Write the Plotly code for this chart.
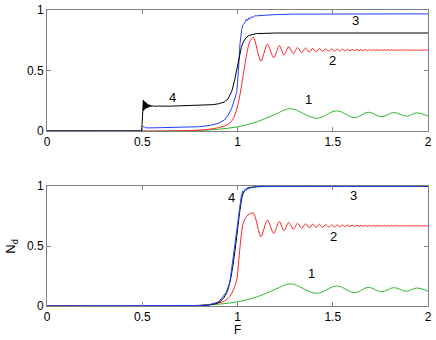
import plotly.graph_objects as go
from plotly.subplots import make_subplots

# curve 1 (green), same in both panels
green_F = [0, 0.6, 0.7, 0.8, 0.9, 1.0, 1.1, 1.2, 1.277, 1.416, 1.52, 1.617, 1.686, 1.757, 1.82, 1.888, 1.94, 2.0]
green_N = [0, 0, 0.002, 0.005, 0.015, 0.035, 0.075, 0.14, 0.185, 0.106, 0.167, 0.111, 0.156, 0.118, 0.153, 0.123, 0.15, 0.124]

# curve 2 (red): rise differs a little between panels, ringing tail is shared
red_rise_top_F = [0, 0.7, 0.8, 0.85, 0.9, 0.93, 0.96, 0.98, 1.004, 1.03, 1.05, 1.065]
red_rise_top_N = [0, 0.002, 0.008, 0.015, 0.028, 0.042, 0.066, 0.11, 0.23, 0.46, 0.65, 0.74]
red_rise_bot_F = [0, 0.7, 0.8, 0.85, 0.9, 0.925, 0.96, 0.98, 0.996, 1.013, 1.03, 1.055]
red_rise_bot_N = [0, 0.002, 0.006, 0.012, 0.025, 0.036, 0.08, 0.14, 0.22, 0.49, 0.69, 0.76]
red_tail_F = [1.083, 1.123, 1.157, 1.19, 1.22, 1.244, 1.269, 1.293, 1.315, 1.337, 1.357, 1.377,
              1.395, 1.413, 1.43, 1.447, 1.463, 1.479, 1.494, 1.509, 1.523, 1.537, 1.551, 1.564,
              1.577, 1.59, 1.602, 1.614, 1.626, 1.638, 1.649, 1.66, 1.671, 1.682, 1.693, 1.703,
              1.713, 1.723, 1.733, 1.743, 1.753, 1.762, 1.771, 1.78, 1.789, 1.798, 1.807, 1.816,
              1.824, 1.832, 1.84, 1.848, 1.856, 1.864, 1.872, 1.88, 1.888, 1.896, 1.904, 1.912,
              1.92, 1.928, 1.936, 1.944, 1.952, 1.96, 1.968, 1.976, 1.984, 1.992, 2.0]
red_tail_N = [0.775, 0.578, 0.717, 0.606, 0.705, 0.628, 0.697, 0.64, 0.69, 0.648, 0.686, 0.652,
              0.683, 0.655, 0.681, 0.657, 0.679, 0.659, 0.678, 0.66, 0.677, 0.661, 0.676, 0.662,
              0.675, 0.663, 0.674, 0.664, 0.674, 0.664, 0.673, 0.665, 0.673, 0.665, 0.673, 0.665,
              0.672, 0.666, 0.672, 0.666, 0.672, 0.666, 0.672, 0.666, 0.672, 0.666, 0.672, 0.666,
              0.672, 0.666, 0.672, 0.666, 0.672, 0.666, 0.671, 0.667, 0.671, 0.667, 0.671, 0.667,
              0.671, 0.667, 0.671, 0.667, 0.671, 0.667, 0.671, 0.667, 0.671, 0.667, 0.669]

# curve 3 (blue)
blue_top_F = [0, 0.498, 0.503, 0.508, 0.515, 0.53, 0.6, 0.7, 0.8, 0.86, 0.9, 0.93, 0.95, 0.97,
              0.985, 0.996, 1.005, 1.013, 1.022, 1.03, 1.04, 1.047, 1.053, 1.06, 1.067, 1.074,
              1.082, 1.09, 1.1, 1.15, 1.2, 1.3, 1.5, 2.0]
blue_top_N = [0, 0, 0.035, 0.04, 0.028, 0.026, 0.028, 0.031, 0.036, 0.048, 0.065, 0.09, 0.13, 0.19,
              0.26, 0.32, 0.5, 0.72, 0.84, 0.88, 0.9, 0.925, 0.912, 0.935, 0.927, 0.945,
              0.938, 0.952, 0.952, 0.958, 0.962, 0.966, 0.968, 0.968]
blue_bot_F = [0, 0.7, 0.8, 0.856, 0.9, 0.94, 0.96, 0.975, 0.993, 1.01, 1.02, 1.028, 1.034, 1.04,
              1.047, 1.054, 1.062, 1.07, 1.08, 1.1, 1.3, 2.0]
blue_bot_N = [0, 0, 0.004, 0.012, 0.034, 0.11, 0.2, 0.38, 0.6, 0.82, 0.92, 0.96, 0.948, 0.975,
              0.965, 0.985, 0.977, 0.99, 0.986, 0.995, 0.999, 0.999]

# curve 4 (black)
black_top_F = [0, 0.497, 0.506, 0.507, 0.508, 0.509, 0.511, 0.513, 0.515, 0.517, 0.519, 0.521,
               0.524, 0.527, 0.53, 0.533, 0.537, 0.541, 0.545, 0.55, 0.555, 0.56, 0.566, 0.572,
               0.58, 0.59, 0.6, 0.65, 0.7, 0.8, 0.87, 0.9, 0.93, 0.95, 0.97, 0.985, 1.0, 1.01,
               1.02, 1.03, 1.045, 1.06, 1.08, 1.1, 1.2, 1.4, 2.0]
black_top_N = [0, 0, 0.256, 0.17, 0.25, 0.175, 0.245, 0.18, 0.24, 0.185, 0.235, 0.19,
               0.228, 0.193, 0.222, 0.196, 0.217, 0.199, 0.214, 0.201, 0.211, 0.202, 0.209, 0.203,
               0.207, 0.204, 0.206, 0.206, 0.208, 0.212, 0.218, 0.225, 0.24, 0.265, 0.33, 0.42, 0.53, 0.62,
               0.69, 0.735, 0.77, 0.79, 0.8, 0.805, 0.81, 0.81, 0.81]
black_bot_F = [0, 0.7, 0.8, 0.856, 0.908, 0.943, 0.96, 0.978, 0.996, 1.013, 1.03, 1.048, 1.07, 1.1, 1.2, 2.0]
black_bot_N = [0, 0, 0.003, 0.01, 0.036, 0.11, 0.2, 0.36, 0.58, 0.8, 0.94, 0.98, 0.99, 0.995, 0.998, 0.998]

# curve numbers: (F, N, text)
labels_top = [(0.661, 0.28, "4"), (1.617, 0.91, "3"), (1.50, 0.587, "2"), (1.375, 0.264, "1")]
labels_bot = [(0.966, 0.908, "4"), (1.61, 0.925, "3"), (1.506, 0.583, "2"), (1.39, 0.275, "1")]

GREEN = "#33b833"
RED = "#ff2020"
BLUE = "#2040ff"
BLACK = "#000000"

fig = make_subplots(rows=2, cols=1)

# top panel
fig.add_trace(go.Scatter(x=green_F, y=green_N, mode="lines", line=dict(color=GREEN, width=1, shape="spline")), row=1, col=1)
fig.add_trace(go.Scatter(x=red_rise_top_F + red_tail_F, y=red_rise_top_N + red_tail_N, mode="lines",
                         line=dict(color=RED, width=1, shape="spline", smoothing=0.8)), row=1, col=1)
fig.add_trace(go.Scatter(x=blue_top_F, y=blue_top_N, mode="lines", line=dict(color=BLUE, width=1)), row=1, col=1)
fig.add_trace(go.Scatter(x=black_top_F, y=black_top_N, mode="lines", line=dict(color=BLACK, width=1)), row=1, col=1)

# bottom panel
fig.add_trace(go.Scatter(x=green_F, y=green_N, mode="lines", line=dict(color=GREEN, width=1, shape="spline")), row=2, col=1)
fig.add_trace(go.Scatter(x=red_rise_bot_F + red_tail_F, y=red_rise_bot_N + red_tail_N, mode="lines",
                         line=dict(color=RED, width=1, shape="spline", smoothing=0.8)), row=2, col=1)
fig.add_trace(go.Scatter(x=black_bot_F, y=black_bot_N, mode="lines", line=dict(color=BLACK, width=1, shape="spline")), row=2, col=1)
fig.add_trace(go.Scatter(x=blue_bot_F, y=blue_bot_N, mode="lines", line=dict(color=BLUE, width=1)), row=2, col=1)

axis_style = dict(showline=True, linecolor="#808080", linewidth=1, mirror="ticks", ticks="inside",
                  ticklen=4, tickcolor="#808080", showgrid=False, zeroline=False, automargin=False,
                  ticklabeloverflow="allow", tickfont=dict(size=12, color="black"))
fig.update_xaxes(range=[0, 2], tickvals=[0, 0.5, 1, 1.5, 2], ticktext=["0", "0.5", "1", "1.5", "2"], **axis_style)
fig.update_yaxes(range=[0, 1], tickvals=[0, 0.5, 1], ticktext=["0", "0.5", "1"], **axis_style)
fig.update_layout(yaxis=dict(domain=[0.591, 1.0]), yaxis2=dict(domain=[0.0, 0.405]))

annotations = []
for fx, ny, t in labels_top:
    annotations.append(dict(x=fx, y=ny, text=t, xref="x", yref="y", showarrow=False, font=dict(size=13, color="black")))
for fx, ny, t in labels_bot:
    annotations.append(dict(x=fx, y=ny, text=t, xref="x2", yref="y2", showarrow=False, font=dict(size=13, color="black")))
annotations.append(dict(x=-0.092, y=0.2, xref="paper", yref="paper", text="N<sub>d</sub>", textangle=-90,
                        xanchor="center", yanchor="middle", showarrow=False, font=dict(size=13, color="black")))
annotations.append(dict(x=0.501, y=-0.081, xref="paper", yref="paper", text="F",
                        xanchor="center", yanchor="middle", showarrow=False, font=dict(size=12, color="black")))

fig.update_layout(width=436, height=340, showlegend=False, margin=dict(l=47, r=8, t=10, b=34),
                  paper_bgcolor="white", plot_bgcolor="white",
                  font=dict(family="Liberation Sans, Arial, sans-serif", size=12, color="black"),
                  annotations=annotations)

# drop the browser's default 8px body margin so the figure sits at the top-left corner
fig.write_html("out.html", config={"displayModeBar": False},
               post_script="document.body.style.margin='0';")
